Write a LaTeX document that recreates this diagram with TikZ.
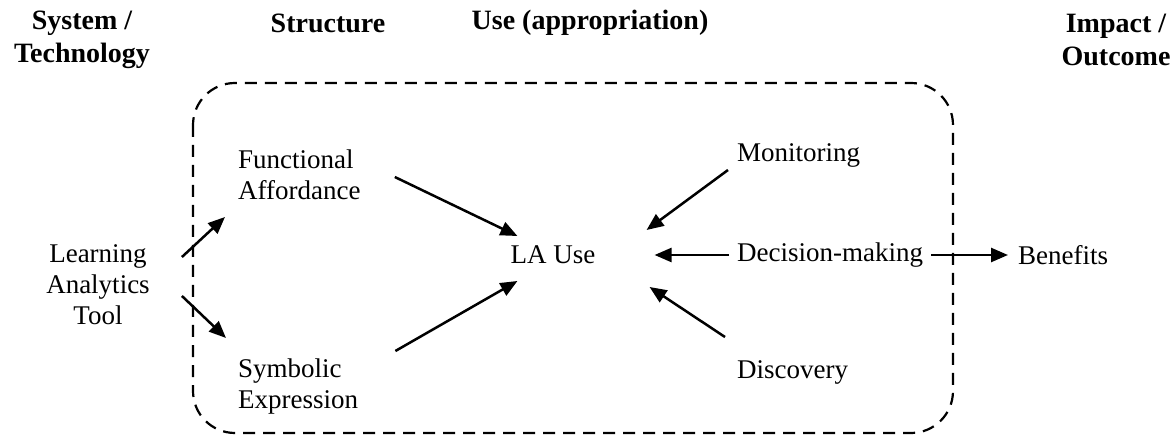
\documentclass[tikz,border=0pt]{standalone}
\usepackage{fontspec}
\setmainfont{Liberation Serif}
\usetikzlibrary{arrows.meta}
\tikzset{
  txt/.style={inner sep=0pt, font=\fontsize{27}{31}\selectfont},
  head/.style={inner sep=0pt, align=center, font=\fontsize{28}{33}\selectfont\bfseries},
  arr/.style={line width=2.5pt, -{Triangle[length=17pt,width=14pt]}},
  box/.style={line width=2.2pt, dash pattern=on 12pt off 8pt, rounded corners=42pt}
}
\begin{document}
\begin{tikzpicture}[x=1pt,y=1pt]
\useasboundingbox (0,0) rectangle (1170,-438);
% headings
\node[head] (h1) at (82,-40) {System /\\Technology};
\node[head] (h2) at (328,-23) {Structure};
\node[head] (h3) at (590,-23) {Use (appropriation)};
\node[head] (h4) at (1116,-40) {Impact /\\Outcome};
% dashed box
\draw[box] (193,-83) rectangle (953,-433);
% nodes
\node[txt, align=center] (lat) at (98,-285) {Learning\\Analytics\\Tool};
\node[txt, align=left, anchor=west] (fa) at (238,-175) {Functional\\Affordance};
\node[txt, align=left, anchor=west] (se) at (238,-387) {Symbolic\\Expression};
\node[txt] (lau) at (553,-255) {LA Use};
\node[txt, anchor=west] (mon) at (737,-155) {Monitoring};
\node[txt, anchor=west] (dec) at (737,-255) {Decision-making};
\node[txt, anchor=west] (dis) at (737,-372) {Discovery};
\node[txt, anchor=west] (ben) at (1018,-255) {Benefits};
% arrows
\draw[arr] ([shift={(32,28)}]lat.east) -- ([shift={(-13,-42)}]fa.west);
\draw[arr] ([shift={(32,-11)}]lat.east) -- ([shift={(-12,49)}]se.west);
\draw[arr] ([shift={(34,-2)}]fa.east) -- ([shift={(7,19)}]lau.west);
\draw[arr] ([shift={(37,36)}]se.east) -- ([shift={(7,-26)}]lau.west);
\draw[arr] ([shift={(-9,-15)}]mon.west) -- ([shift={(51,25)}]lau.east);
\draw[arr] ([shift={(-8,0)}]dec.west) -- ([shift={(59,0)}]lau.east);
\draw[arr] ([shift={(-12,35)}]dis.west) -- ([shift={(54,-32)}]lau.east);
\draw[arr] ([shift={(8,0)}]dec.east) -- ([shift={(-10,0)}]ben.west);
\end{tikzpicture}
\end{document}
